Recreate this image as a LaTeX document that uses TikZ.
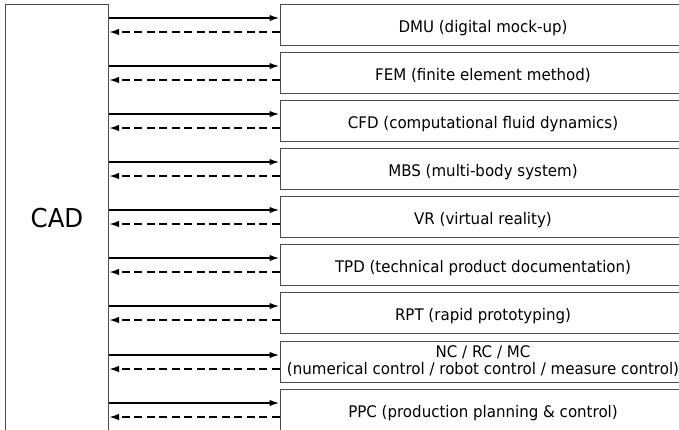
\documentclass[tikz,border=0pt]{standalone}
\usepackage{fontspec}
\setmainfont[FakeStretch=0.94]{DejaVu Sans}
\usetikzlibrary{arrows.meta}
\begin{document}
\begin{tikzpicture}[x=1pt,y=-1pt,
  sbox/.style={draw=black!70, line width=1pt, minimum width=406pt, minimum height=41pt,
    inner sep=0pt, font=\fontsize{16}{17}\selectfont, align=center},
  one/.style={text height=18pt, text depth=2pt},
  cadbox/.style={draw=black!70, line width=1pt, minimum width=103pt, minimum height=428pt,
    inner sep=0pt, font=\fontsize{26}{28}\selectfont},
  fwd/.style={line width=1.7pt, -{Latex[length=10pt,width=6.5pt]}},
  back/.style={line width=1.7pt, dash pattern=on 8pt off 4.5pt, -{Latex[length=10pt,width=6.5pt]}}]
\useasboundingbox (0,0) rectangle (679,429);
\clip (0,0) rectangle (679,429);
\node[cadbox] (cad) at (57,218.5) {CAD};
\node[sbox,one] (b1) at (483,24.5) {DMU (digital mock-up)};
\node[sbox,one] (b2) at (483,72.5) {FEM (finite element method)};
\node[sbox,one] (b3) at (483,120.5) {CFD (computational fluid dynamics)};
\node[sbox,one] (b4) at (483,168.5) {MBS (multi-body system)};
\node[sbox,one] (b5) at (483,216.5) {VR (virtual reality)};
\node[sbox,one] (b6) at (483,264.5) {TPD (technical product documentation)};
\node[sbox,one] (b7) at (483,312.5) {RPT (rapid prototyping)};
\node[sbox] (b8) at (483,361.5) {NC / RC / MC\\(numerical control / robot control / measure control)};
\node[sbox,one] (b9) at (483,409.5) {PPC (production planning \& control)};
\foreach \i in {1,...,9}{
  \coordinate (s\i) at ([yshift=6.5pt]b\i.west);
  \coordinate (d\i) at ([yshift=-7.5pt]b\i.west);
  \draw[fwd] (s\i -| cad.east) -- (s\i);
  \draw[back] (d\i) -- (d\i -| cad.east);
}
\end{tikzpicture}
\end{document}
